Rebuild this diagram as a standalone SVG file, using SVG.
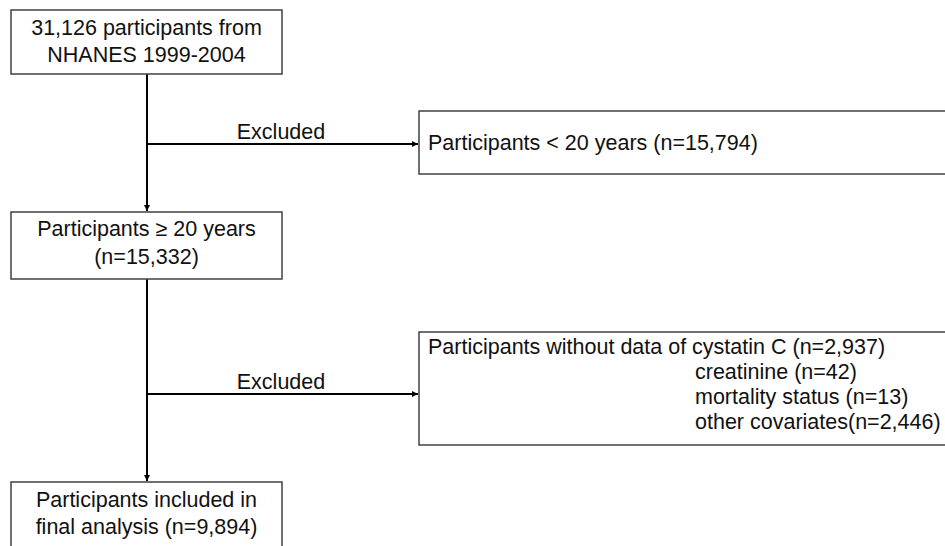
<svg xmlns="http://www.w3.org/2000/svg" width="945" height="546" viewBox="0 0 945 546">
<defs>
<marker id="ah" viewBox="0 0 10 10" refX="10" refY="5" markerWidth="6" markerHeight="6" markerUnits="userSpaceOnUse" orient="auto">
<path d="M0,0 L10,5 L0,10 z" fill="#000"/>
</marker>
<style>
.box{fill:#fff;stroke:#404040;stroke-width:1.5}
.t{font-family:"Liberation Sans",Arial,sans-serif;font-size:21.5px;fill:#111}
.c{text-anchor:middle}
.ln{stroke:#000;stroke-width:2;fill:none;marker-end:url(#ah)}
</style>
</defs>
<rect width="945" height="546" fill="#fff"/>
<g id="connectors">
<line class="ln" x1="147" y1="74" x2="147" y2="211"/>
<line class="ln" x1="147" y1="144" x2="418" y2="144"/>
<line class="ln" x1="147" y1="279" x2="147" y2="481"/>
<line class="ln" x1="147" y1="394" x2="418" y2="394"/>
<text class="t c" x="281" y="139">Excluded</text>
<text class="t c" x="281" y="389">Excluded</text>
</g>
<g id="n1">
<rect class="box" x="11" y="10" width="271" height="64"/>
<text class="t c" x="146.5" y="35">31,126 participants from</text>
<text class="t c" x="146.5" y="62">NHANES 1999-2004</text>
</g>
<g id="n2">
<rect class="box" x="11" y="212" width="271" height="67"/>
<text class="t c" x="146.5" y="236">Participants ≥ 20 years</text>
<text class="t c" x="146.5" y="264">(n=15,332)</text>
</g>
<g id="n3">
<rect class="box" x="419" y="111" width="540" height="63"/>
<text class="t" x="428" y="150">Participants &lt; 20 years (n=15,794)</text>
</g>
<g id="n4">
<rect class="box" x="419" y="332" width="540" height="113"/>
<text class="t" x="428" y="354">Participants without data of cystatin C (n=2,937)</text>
<text class="t" x="695" y="379">creatinine (n=42)</text>
<text class="t" x="695" y="404">mortality status (n=13)</text>
<text class="t" x="695" y="429">other covariates(n=2,446)</text>
</g>
<g id="n5">
<rect class="box" x="11" y="482" width="271" height="80"/>
<text class="t c" x="146.5" y="507">Participants included in</text>
<text class="t c" x="146.5" y="534">final analysis (n=9,894)</text>
</g>
</svg>
